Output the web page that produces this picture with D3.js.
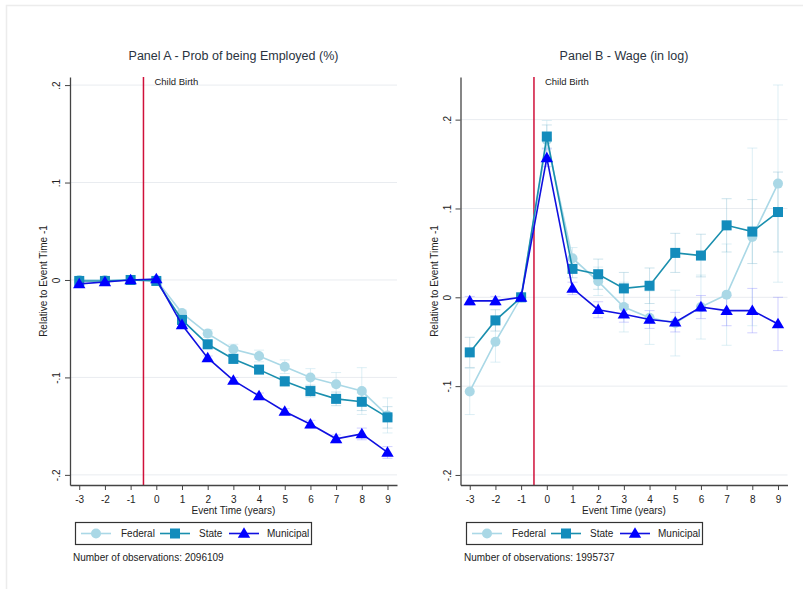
<!DOCTYPE html>
<html>
<head>
<meta charset="utf-8">
<script src="https://cdn.jsdelivr.net/npm/d3@7"></script>
<style>
  body { margin: 0; background: #ffffff; }
  svg { display: block; font-family: "Liberation Sans", Arial, sans-serif; }
</style>
</head>
<body>
<svg id="fig" width="803" height="589"></svg>
<script>
// Event time relative to child birth (years)
const years = [-3, -2, -1, 0, 1, 2, 3, 4, 5, 6, 7, 8, 9];

// Panel A: probability of being employed, relative to t = -1
const empFederal   = [0.000, 0.000, 0.000, 0.000, -0.034, -0.055, -0.071, -0.078, -0.089, -0.100, -0.107, -0.114, -0.139];
const empState     = [-0.001, -0.001, 0.000, -0.001, -0.041, -0.066, -0.081, -0.092, -0.104, -0.114, -0.122, -0.125, -0.141];
const empMunicipal = [-0.004, -0.002, 0.000, 0.001, -0.046, -0.080, -0.103, -0.119, -0.135, -0.148, -0.163, -0.158, -0.177];
// 95% CI half-widths
const empFederalCI   = [0.002, 0.002, 0, 0.002, 0.003, 0.004, 0.005, 0.006, 0.007, 0.009, 0.012, 0.024, 0.018];
const empStateCI     = [0.002, 0.002, 0, 0.002, 0.003, 0.003, 0.004, 0.004, 0.005, 0.006, 0.007, 0.009, 0.011];
const empMunicipalCI = [0.002, 0.001, 0, 0.001, 0.002, 0.002, 0.003, 0.003, 0.003, 0.004, 0.004, 0.006, 0.006];

// Panel B: log wage, relative to t = -1
const wageFederal   = [-0.106, -0.050, 0.000, 0.177, 0.044, 0.018, -0.011, -0.023, -0.029, -0.011, 0.003, 0.068, 0.128];
const wageState     = [-0.062, -0.026, 0.000, 0.181, 0.032, 0.026, 0.010, 0.013, 0.050, 0.047, 0.081, 0.074, 0.096];
const wageMunicipal = [-0.004, -0.004, 0.000, 0.157, 0.010, -0.014, -0.019, -0.025, -0.028, -0.011, -0.015, -0.015, -0.030];
const wageFederalCI   = [0.026, 0.023, 0, 0.022, 0.012, 0.016, 0.028, 0.030, 0.037, 0.036, 0.057, 0.100, 0.111];
const wageStateCI     = [0.017, 0.012, 0, 0.013, 0.010, 0.017, 0.018, 0.020, 0.022, 0.024, 0.030, 0.036, 0.045];
const wageMunicipalCI = [0.005, 0.005, 0, 0.010, 0.007, 0.009, 0.009, 0.010, 0.011, 0.013, 0.017, 0.025, 0.030];

// Tick values and labels
const xTicks = years;
const xTickLabels = ["-3", "-2", "-1", "0", "1", "2", "3", "4", "5", "6", "7", "8", "9"];
const yTicks = [0.2, 0.1, 0, -0.1, -0.2];
const yTickLabels = [".2", ".1", "0", "-.1", "-.2"];

const seriesNames = ["Federal", "State", "Municipal"];

const styles = {
  Federal:   { color: "#aad8e6", line: "#aad8e6", marker: "circle",   ci: "#aad8e6" },
  State:     { color: "#138cbc", line: "#1a8fae", marker: "square",   ci: "#7fb8d0" },
  Municipal: { color: "#0000ff", line: "#1010e0", marker: "triangle", ci: "#8a8aff" }
};

const svg = d3.select("#fig");

// outer figure frame
svg.append("rect")
  .attr("x", 6.5).attr("y", 5.5).attr("width", 820).attr("height", 600)
  .attr("fill", "none").attr("stroke", "#ececec").attr("stroke-width", 1.5);

function drawMarker(g, type, x, y, fill) {
  if (type === "circle") {
    g.append("circle").attr("cx", x).attr("cy", y).attr("r", 5).attr("fill", fill);
  } else if (type === "square") {
    g.append("rect").attr("x", x - 5).attr("y", y - 5).attr("width", 10).attr("height", 10).attr("fill", fill);
  } else {
    const s = 6.2;
    g.append("path")
      .attr("d", `M${x},${y - s}L${x + s},${y + s * 0.7}L${x - s},${y + s * 0.7}Z`)
      .attr("fill", fill);
  }
}

function drawPanel(cfg) {
  const g = svg.append("g");
  const x = d3.scaleLinear().domain([-3.36, 9.37]).range([cfg.left, cfg.right]);
  const y = d3.scaleLinear().domain(cfg.yDomain).range([cfg.bottom, cfg.top]);

  // gridlines
  g.append("g").selectAll("line").data(yTicks).join("line")
    .attr("x1", cfg.left).attr("x2", cfg.right)
    .attr("y1", d => y(d)).attr("y2", d => y(d))
    .attr("stroke", "#e9ecf0").attr("stroke-width", 1);

  // Child birth marker line
  g.append("line")
    .attr("x1", x(-0.5)).attr("x2", x(-0.5))
    .attr("y1", cfg.top).attr("y2", cfg.bottom)
    .attr("stroke", "#d0103a").attr("stroke-width", 1.5);
  g.append("text")
    .attr("x", x(-0.5) + 11).attr("y", cfg.top + 8)
    .attr("font-size", 9.5).attr("fill", "#222")
    .text("Child Birth");

  // confidence intervals
  cfg.series.forEach((s, i) => {
    const st = styles[seriesNames[i]];
    const eg = g.append("g").attr("stroke", st.ci).attr("stroke-opacity", 0.4).attr("stroke-width", 1);
    years.forEach((yr, j) => {
      if (s.ci[j] <= 0) return;
      const xx = x(yr), y1 = y(s.v[j] - s.ci[j]), y2 = y(s.v[j] + s.ci[j]);
      eg.append("line").attr("x1", xx).attr("x2", xx).attr("y1", y1).attr("y2", y2);
      eg.append("line").attr("x1", xx - 5).attr("x2", xx + 5).attr("y1", y1).attr("y2", y1);
      eg.append("line").attr("x1", xx - 5).attr("x2", xx + 5).attr("y1", y2).attr("y2", y2);
    });
  });

  // series lines and markers
  cfg.series.forEach((s, i) => {
    const st = styles[seriesNames[i]];
    const pts = years.map((yr, j) => [x(yr), y(s.v[j])]);
    g.append("path")
      .attr("d", d3.line()(pts))
      .attr("fill", "none").attr("stroke", st.line).attr("stroke-width", 1.6);
    const mg = g.append("g");
    pts.forEach(p => drawMarker(mg, st.marker, p[0], p[1], st.color));
  });

  // axes
  const xAxis = g.append("g")
    .attr("transform", `translate(0,${cfg.bottom})`)
    .call(d3.axisBottom(x).tickValues(xTicks).tickSize(5).tickSizeOuter(0)
      .tickFormat((d, i) => xTickLabels[i]));
  xAxis.select(".domain").attr("stroke", "#444").attr("stroke-width", 1.3);
  xAxis.selectAll(".tick line").attr("stroke", "#444");
  xAxis.selectAll("text").attr("font-size", 10).attr("fill", "#222")
    .attr("font-family", "Liberation Sans, Arial, sans-serif").attr("dy", "0.95em").attr("y", 8);

  const yAxis = g.append("g")
    .attr("transform", `translate(${cfg.left},0)`)
    .call(d3.axisLeft(y).tickValues(yTicks).tickSize(5).tickSizeOuter(0)
      .tickFormat((d, i) => yTickLabels[i]));
  yAxis.select(".domain").attr("stroke", "#444").attr("stroke-width", 1.3);
  yAxis.selectAll(".tick line").attr("stroke", "#444");
  yAxis.selectAll("text")
    .attr("font-size", 10).attr("fill", "#222")
    .attr("font-family", "Liberation Sans, Arial, sans-serif")
    .attr("x", null).attr("dy", null)
    .attr("text-anchor", "middle")
    .attr("transform", "translate(-10,0) rotate(-90)");

  // axis titles
  g.append("text")
    .attr("x", (cfg.left + cfg.right) / 2).attr("y", cfg.bottom + 29)
    .attr("text-anchor", "middle").attr("font-size", 10).attr("fill", "#222")
    .text("Event Time (years)");
  g.append("text")
    .attr("transform", `translate(${cfg.left - 23},${(cfg.top + cfg.bottom) / 2}) rotate(-90)`)
    .attr("text-anchor", "middle").attr("font-size", 10).attr("fill", "#222")
    .text("Relative to Event Time -1");

  // panel title
  g.append("text")
    .attr("x", (cfg.left + cfg.right) / 2).attr("y", 60)
    .attr("text-anchor", "middle").attr("font-size", 12.5).attr("fill", "#2a3340")
    .text(cfg.title);

  // legend
  const lg = g.append("g").attr("transform", `translate(${cfg.legendX},522)`);
  lg.append("rect").attr("x", 0.5).attr("y", 0.5).attr("width", 236).attr("height", 22)
    .attr("fill", "#fff").attr("stroke", "#333").attr("stroke-width", 1.2);
  const items = [
    { name: "Federal", x0: 6, tx: 46 },
    { name: "State", x0: 85, tx: 124 },
    { name: "Municipal", x0: 154, tx: 192 }
  ];
  items.forEach(it => {
    const st = styles[it.name];
    lg.append("line").attr("x1", it.x0).attr("x2", it.x0 + 30).attr("y1", 11.5).attr("y2", 11.5)
      .attr("stroke", st.line).attr("stroke-width", 1.6);
    drawMarker(lg, st.marker, it.x0 + 15, 11.5, st.color);
    lg.append("text").attr("x", it.tx).attr("y", 15).attr("font-size", 10).attr("fill", "#222").text(it.name);
  });

  g.append("text")
    .attr("x", cfg.legendX - 2).attr("y", 561)
    .attr("font-size", 10).attr("fill", "#222")
    .text(cfg.note);
}

drawPanel({
  title: "Panel A - Prob of being Employed (%)",
  left: 70, right: 397, top: 77, bottom: 485,
  yDomain: [-0.2104, 0.2083],
  series: [
    { v: empFederal, ci: empFederalCI },
    { v: empState, ci: empStateCI },
    { v: empMunicipal, ci: empMunicipalCI }
  ],
  legendX: 75,
  note: "Number of observations: 2096109"
});

drawPanel({
  title: "Panel B - Wage (in log)",
  left: 460.5, right: 787.5, top: 77, bottom: 485,
  yDomain: [-0.2113, 0.248],
  series: [
    { v: wageFederal, ci: wageFederalCI },
    { v: wageState, ci: wageStateCI },
    { v: wageMunicipal, ci: wageMunicipalCI }
  ],
  legendX: 466,
  note: "Number of observations: 1995737"
});
</script>
</body>
</html>
